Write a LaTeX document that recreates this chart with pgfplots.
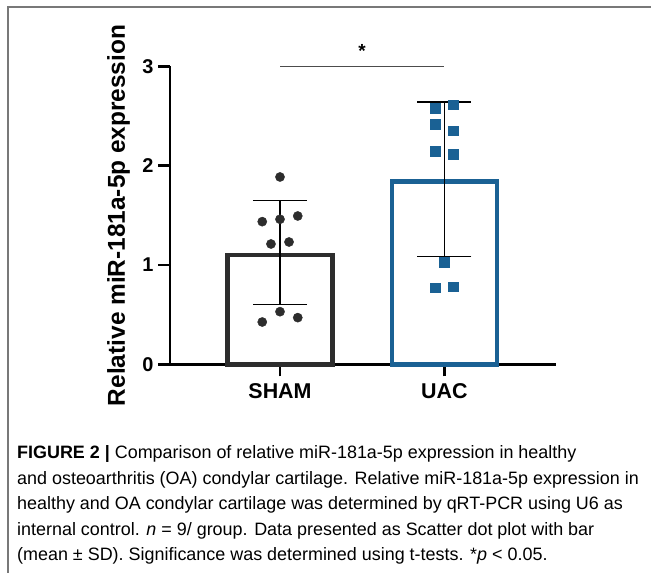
\documentclass[border=0pt]{standalone}
\usepackage{fontspec}
\setmainfont{Liberation Sans}
\usepackage{pgfplots}
\pgfplotsset{compat=1.18}
\definecolor{shamgray}{RGB}{45,45,45}
\definecolor{uacblue}{RGB}{26,97,148}
\definecolor{framegray}{RGB}{120,120,120}
\newfontfamily\capfont{Liberation Sans}
\begin{document}
\begin{tikzpicture}[x=1bp,y=1bp]
\useasboundingbox (0,0) rectangle (651,573);
\draw[framegray, line width=1.6bp] (8,0) -- (8,566) -- (651,566);
\begin{axis}[
  at={(170bp,208.7bp)}, anchor=south west,
  scale only axis, width=386bp, height=297.8bp,
  xmin=-0.6695, xmax=1.680, ymin=0, ymax=3,
  axis lines=left,
  axis line style={-, line width=2.8bp, black},
  clip=false,
  xtick={0,1}, xticklabels={SHAM,UAC},
  ytick={0,1,2,3},
  tick align=outside,
  major tick length=12bp,
  tick style={line width=2.8bp, black},
  /pgf/number format/assume math mode=true,
  yticklabel style={font=\fontsize{20}{24}\selectfont\bfseries, xshift=-1bp},
  xticklabel style={font=\fontsize{21.5}{24}\selectfont\bfseries, yshift=-4bp},
  ylabel={Relative miR-181a-5p expression},
  ylabel style={at={(axis description cs:-0.133,0.5)}, anchor=center, font=\fontsize{24.5}{28}\selectfont\bfseries},
]
\addplot[ybar, bar shift=0pt, bar width=0.639, draw=shamgray, fill=white, line width=4.5bp] coordinates {(0,1.10)};
\addplot[ybar, bar shift=0pt, bar width=0.639, draw=uacblue, fill=white, line width=4.5bp] coordinates {(1,1.84)};
\addplot[draw=none, mark=none, forget plot,
  error bars/.cd, y dir=both, y explicit,
  error bar style={draw=black, line width=1.5bp},
  error mark options={draw=black, rotate=90, mark size=27bp, line width=1.5bp}]
  coordinates {(0,1.128) +- (0,0.524) (1,1.865) +- (0,0.777)};
\addplot[only marks, mark=*, mark size=4.6bp, color=shamgray] coordinates {
  (0,1.887) (-0.108,1.437) (0,1.461) (0.108,1.494) (-0.055,1.212) (0.055,1.232)
  (-0.108,0.426) (0,0.530) (0.108,0.470)};
\addplot[only marks, mark=square*, mark size=4.75bp, color=uacblue] coordinates {
  (0.945,2.579) (1.055,2.615) (0.945,2.418) (1.055,2.353) (0.945,2.149) (1.055,2.118)
  (1,1.030) (0.945,0.772) (1.055,0.782)};
\addplot[mark=none, line width=1.5bp, color=black!70] coordinates {(0,3) (1,3)};
\node[font=\fontsize{19}{20}\selectfont\bfseries] at (axis cs:0.5,3.16) {*};
\end{axis}
\begin{scope}[font=\capfont\fontsize{18}{20}\selectfont]
\node[anchor=base west, inner sep=0] at (17,114) {\textbf{FIGURE 2 |} Comparison of relative miR-181a-5p expression in healthy};
\node[anchor=base west, inner sep=0] at (17,88.5) {and osteoarthritis (OA) condylar cartilage. Relative miR-181a-5p expression in};
\node[anchor=base west, inner sep=0] at (17,63) {healthy and OA condylar cartilage was determined by qRT-PCR using U6 as};
\node[anchor=base west, inner sep=0] at (17,37.5) {internal control. \textit{n} = 9/ group. Data presented as Scatter dot plot with bar};
\node[anchor=base west, inner sep=0] at (17,12) {(mean ± SD). Significance was determined using t-tests. *\textit{p} < 0.05.};
\end{scope}
\end{tikzpicture}
\end{document}
